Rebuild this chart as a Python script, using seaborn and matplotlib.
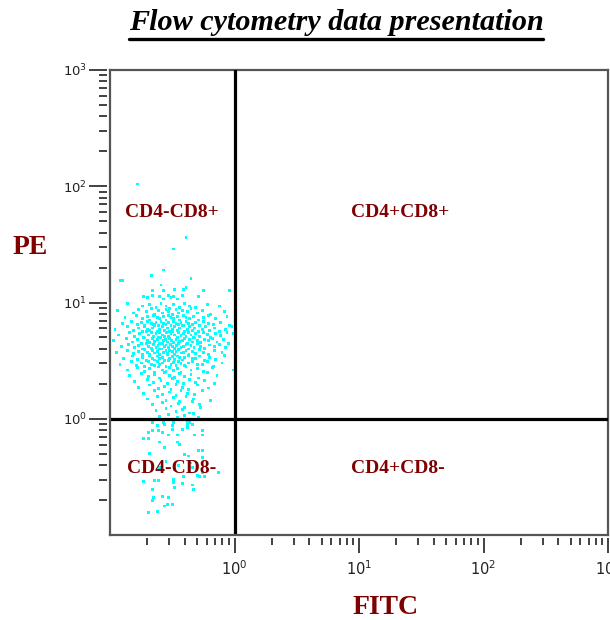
import numpy as np
import pandas as pd
import matplotlib
matplotlib.use("Agg")
import matplotlib.pyplot as plt
import seaborn as sns
from matplotlib.ticker import FixedLocator, FixedFormatter, NullFormatter
from matplotlib.lines import Line2D

# ---------------- data (events, in log10 decades) -------------
# sparse events above the main cluster
fitc_sparse_log10 = [-0.78, -0.39, -0.49, -0.57, -0.67, -0.92, -0.90, -0.35, -0.59, -0.66,
                     -0.57, -0.48, -0.41, -0.39, -0.25, -0.04,
                     -0.73, -0.70, -0.66, -0.60, -0.57, -0.53, -0.51, -0.49, -0.46, -0.42, -0.29]
pe_sparse_log10 = [2.02, 1.56, 1.46, 1.28, 1.23, 1.19, 1.19, 1.21, 1.15, 1.10,
                   1.10, 1.11, 1.11, 1.13, 1.10, 1.10,
                   1.05, 1.04, 1.06, 1.05, 1.03, 1.06, 1.04, 1.05, 1.03, 1.06, 1.05]

# main CD4-CD8+ cluster
fitc_core_log10 = [
    -0.86, -0.74, -0.68, -0.63, -0.59, -0.55, -0.52, -0.49, -0.44, -0.40, -0.36, -0.31, -0.22, -0.12,
    -0.94, -0.81, -0.77, -0.71, -0.67, -0.64, -0.61, -0.58, -0.55, -0.53, -0.50, -0.47, -0.45, -0.42,
    -0.38, -0.35, -0.30, -0.26, -0.19, -0.08,
    -0.88, -0.79, -0.74, -0.70, -0.68, -0.65, -0.62, -0.60, -0.57, -0.55, -0.53, -0.51, -0.49, -0.46,
    -0.44, -0.41, -0.39, -0.36, -0.33, -0.29, -0.25, -0.21, -0.15, -0.06,
    -0.90, -0.83, -0.78, -0.75, -0.72, -0.70, -0.67, -0.65, -0.63, -0.61, -0.59, -0.57, -0.55, -0.53,
    -0.51, -0.49, -0.47, -0.45, -0.43, -0.41, -0.39, -0.37, -0.34, -0.31, -0.28, -0.25, -0.21, -0.17,
    -0.11, -0.04,
    -0.96, -0.86, -0.81, -0.77, -0.74, -0.72, -0.70, -0.68, -0.66, -0.64, -0.62, -0.60, -0.58, -0.56,
    -0.54, -0.52, -0.50, -0.48, -0.46, -0.44, -0.42, -0.40, -0.38, -0.36, -0.34, -0.32, -0.29, -0.26,
    -0.23, -0.20, -0.16, -0.12, -0.07, -0.02,
    -0.93, -0.84, -0.80, -0.76, -0.73, -0.71, -0.69, -0.67, -0.65, -0.63, -0.61, -0.60, -0.58, -0.56,
    -0.545, -0.53, -0.51, -0.50, -0.48, -0.46, -0.45, -0.43, -0.41, -0.39, -0.37, -0.35, -0.33, -0.31,
    -0.28, -0.25, -0.22, -0.19, -0.15, -0.11, -0.06, -0.01,
    -0.97, -0.87, -0.82, -0.78, -0.75, -0.72, -0.70, -0.68, -0.66, -0.64, -0.62, -0.605, -0.59, -0.57,
    -0.555, -0.54, -0.52, -0.505, -0.49, -0.47, -0.455, -0.44, -0.42, -0.40, -0.38, -0.36, -0.34, -0.32,
    -0.30, -0.27, -0.24, -0.21, -0.18, -0.14, -0.09, -0.05,
    -0.91, -0.85, -0.80, -0.77, -0.74, -0.71, -0.69, -0.67, -0.65, -0.63, -0.615, -0.60, -0.58, -0.565,
    -0.55, -0.53, -0.515, -0.50, -0.48, -0.465, -0.45, -0.43, -0.41, -0.39, -0.37, -0.35, -0.325, -0.30,
    -0.27, -0.24, -0.20, -0.16, -0.12, -0.07,
    -0.95, -0.86, -0.81, -0.77, -0.74, -0.72, -0.70, -0.68, -0.66, -0.64, -0.62, -0.60, -0.585, -0.57,
    -0.55, -0.535, -0.52, -0.50, -0.485, -0.47, -0.45, -0.43, -0.41, -0.39, -0.365, -0.34, -0.31, -0.28,
    -0.25, -0.21, -0.16, -0.10,
    -0.89, -0.82, -0.78, -0.74, -0.71, -0.68, -0.66, -0.64, -0.62, -0.60, -0.58, -0.56, -0.54, -0.52,
    -0.50, -0.48, -0.46, -0.44, -0.42, -0.40, -0.37, -0.34, -0.31, -0.28, -0.24, -0.20, -0.15, -0.08,
    -0.92, -0.83, -0.79, -0.75, -0.72, -0.69, -0.67, -0.645, -0.62, -0.60, -0.575, -0.55, -0.53, -0.51,
    -0.49, -0.47, -0.45, -0.43, -0.40, -0.37, -0.34, -0.30, -0.26, -0.22, -0.17, -0.10,
    -0.86, -0.78, -0.72, -0.68, -0.64, -0.61, -0.58, -0.55, -0.52, -0.49, -0.46, -0.43, -0.39, -0.35,
    -0.30, -0.25, -0.18, -0.01,
    -0.84, -0.75, -0.69, -0.64, -0.60, -0.56, -0.52, -0.48, -0.44, -0.40, -0.35, -0.29, -0.22, -0.14,
    -0.80, -0.70, -0.65, -0.59, -0.54, -0.50, -0.46, -0.41, -0.36, -0.31, -0.24, -0.16,
    -0.77, -0.68, -0.61, -0.56, -0.51, -0.47, -0.42, -0.37, -0.30, -0.21,
    -0.73, -0.64, -0.58, -0.52, -0.47, -0.43, -0.38, -0.32, -0.26,
    -0.70, -0.62, -0.55, -0.49, -0.44, -0.39, -0.33, -0.19,
    -0.66, -0.58, -0.51, -0.45, -0.40, -0.34, -0.28,
    -0.63, -0.55, -0.47, -0.42, -0.36, -0.27,
    -0.60, -0.53, -0.46, -0.40, -0.33, -0.29,
]
pe_core_log10 = [
    0.99, 0.97, 0.98, 0.96, 0.99, 0.97, 0.95, 0.98, 0.96, 0.99, 0.97, 0.96, 0.98, 0.97,
    0.93, 0.91, 0.94, 0.92, 0.95, 0.90, 0.93, 0.91, 0.94, 0.92, 0.90, 0.94, 0.91, 0.93,
    0.92, 0.95, 0.91, 0.93, 0.90, 0.92,
    0.87, 0.89, 0.86, 0.88, 0.85, 0.89, 0.87, 0.86, 0.88, 0.85, 0.89, 0.87, 0.86, 0.88,
    0.85, 0.89, 0.87, 0.86, 0.88, 0.85, 0.87, 0.89, 0.86, 0.88,
    0.82, 0.84, 0.81, 0.83, 0.80, 0.84, 0.82, 0.81, 0.83, 0.80, 0.84, 0.82, 0.81, 0.83,
    0.80, 0.84, 0.82, 0.81, 0.83, 0.80, 0.84, 0.82, 0.81, 0.83, 0.80, 0.84, 0.82, 0.81,
    0.83, 0.80,
    0.77, 0.79, 0.76, 0.78, 0.75, 0.79, 0.77, 0.76, 0.78, 0.80, 0.75, 0.77, 0.79, 0.76,
    0.78, 0.75, 0.77, 0.79, 0.76, 0.78, 0.80, 0.75, 0.77, 0.79, 0.76, 0.78, 0.75, 0.77,
    0.79, 0.76, 0.78, 0.75, 0.77, 0.79,
    0.72, 0.74, 0.71, 0.73, 0.70, 0.75, 0.72, 0.74, 0.71, 0.73, 0.70, 0.745, 0.72, 0.705,
    0.74, 0.71, 0.73, 0.75, 0.72, 0.70, 0.74, 0.715, 0.73, 0.71, 0.745, 0.72, 0.70, 0.735,
    0.71, 0.74, 0.725, 0.70, 0.73, 0.715, 0.74, 0.735,
    0.67, 0.69, 0.66, 0.68, 0.65, 0.695, 0.67, 0.655, 0.69, 0.665, 0.68, 0.65, 0.70, 0.67,
    0.685, 0.66, 0.69, 0.675, 0.655, 0.68, 0.695, 0.665, 0.67, 0.69, 0.65, 0.68, 0.66, 0.695,
    0.67, 0.655, 0.685, 0.67, 0.69, 0.66, 0.68, 0.65,
    0.62, 0.64, 0.61, 0.63, 0.60, 0.645, 0.62, 0.605, 0.64, 0.615, 0.63, 0.60, 0.65, 0.62,
    0.635, 0.61, 0.64, 0.625, 0.605, 0.63, 0.645, 0.615, 0.62, 0.64, 0.60, 0.63, 0.61, 0.645,
    0.62, 0.605, 0.635, 0.62, 0.64, 0.61,
    0.57, 0.59, 0.56, 0.58, 0.55, 0.595, 0.57, 0.555, 0.59, 0.565, 0.58, 0.55, 0.60, 0.57,
    0.585, 0.56, 0.59, 0.575, 0.555, 0.58, 0.595, 0.565, 0.57, 0.59, 0.55, 0.58, 0.56, 0.595,
    0.57, 0.555, 0.585, 0.57,
    0.52, 0.54, 0.51, 0.53, 0.50, 0.545, 0.52, 0.505, 0.54, 0.515, 0.53, 0.50, 0.55, 0.52,
    0.535, 0.51, 0.54, 0.525, 0.505, 0.53, 0.545, 0.515, 0.52, 0.54, 0.50, 0.53, 0.51, 0.545,
    0.47, 0.49, 0.46, 0.48, 0.45, 0.495, 0.47, 0.455, 0.49, 0.465, 0.48, 0.45, 0.50, 0.47,
    0.485, 0.46, 0.49, 0.475, 0.455, 0.48, 0.495, 0.465, 0.47, 0.49, 0.45, 0.48,
    0.42, 0.44, 0.41, 0.43, 0.40, 0.445, 0.42, 0.405, 0.44, 0.415, 0.43, 0.40, 0.45, 0.42,
    0.435, 0.41, 0.44, 0.42,
    0.37, 0.39, 0.36, 0.38, 0.35, 0.395, 0.37, 0.355, 0.39, 0.365, 0.38, 0.35, 0.40, 0.37,
    0.32, 0.34, 0.31, 0.33, 0.30, 0.345, 0.32, 0.305, 0.34, 0.315, 0.33, 0.30,
    0.27, 0.29, 0.26, 0.28, 0.25, 0.295, 0.27, 0.255, 0.29, 0.265,
    0.22, 0.24, 0.21, 0.23, 0.20, 0.245, 0.22, 0.205, 0.24,
    0.17, 0.19, 0.16, 0.18, 0.15, 0.195, 0.17, 0.155,
    0.12, 0.14, 0.11, 0.13, 0.10, 0.145, 0.12,
    0.07, 0.09, 0.06, 0.08, 0.05, 0.095,
    0.02, 0.04, 0.01, 0.03, 0.045, 0.015,
]

# tail into the CD4-CD8- quadrant
fitc_tail_log10 = [-0.66, -0.57, -0.49, -0.38, -0.36, -0.62, -0.56, -0.50, -0.38, -0.34,
                   -0.66, -0.69, -0.61, -0.58, -0.50, -0.42, -0.38, -0.26, -0.73, -0.69,
                   -0.53, -0.46, -0.32, -0.26, -0.60, -0.46, -0.56, -0.44, -0.68, -0.29,
                   -0.26, -0.40, -0.37, -0.26, -0.48, -0.34, -0.26, -0.24, -0.13, -0.30,
                   -0.28, -0.41, -0.49, -0.73, -0.64, -0.61, -0.49, -0.42, -0.34, -0.66,
                   -0.48, -0.33, -0.58, -0.53, -0.65, -0.50, -0.54, -0.66, -0.56, -0.62,
                   -0.69, -0.55, -0.45, -0.60, -0.35]
pe_tail_log10 = [-0.03, -0.03, -0.03, -0.03, -0.03, -0.06, -0.05, -0.06, -0.06, -0.05,
                 -0.10, -0.12, -0.10, -0.12, -0.09, -0.09, -0.08, -0.10, -0.17, -0.17,
                 -0.14, -0.14, -0.14, -0.14, -0.20, -0.20, -0.25, -0.22, -0.30, -0.27,
                 -0.27, -0.31, -0.32, -0.33, -0.44, -0.42, -0.46, -0.50, -0.46, -0.49,
                 -0.50, -0.50, -0.52, -0.54, -0.53, -0.53, -0.55, -0.56, -0.57, -0.61,
                 -0.59, -0.61, -0.67, -0.68, -0.68, -0.74, -0.74, -0.70, -0.75, -0.80,
                 -0.81, -0.37, -0.40, -0.42, -0.38]

gate_fitc = 1.0
gate_pe = 1.0
axis_limits = (0.1, 1000)
major_ticks = [1, 10, 100, 1000]
tick_labels = [r"$\mathregular{10^{0}}$", r"$\mathregular{10^{1}}$",
               r"$\mathregular{10^{2}}$", r"$\mathregular{10^{3}}$"]
minor_ticks = [m * 10.0 ** e for e in range(-1, 3) for m in range(2, 10)]
quadrant_labels = ["CD4-CD8+", "CD4+CD8+", "CD4-CD8-", "CD4+CD8-"]
title_text = "Flow cytometry data presentation"
x_label, y_label = "FITC", "PE"

fitc = 10.0 ** np.array(fitc_sparse_log10 + fitc_core_log10 + fitc_tail_log10)
pe = 10.0 ** np.array(pe_sparse_log10 + pe_core_log10 + pe_tail_log10)
df = pd.DataFrame({"FITC": fitc, "PE": pe})

# ---------------- figure -------------
sns.set_style("white")
plt.rcParams["font.family"] = ["DejaVu Sans"]
W, H = 610, 620
fig = plt.figure(figsize=(W / 100, H / 100), dpi=100)
ax = fig.add_axes([110 / W, 85 / H, 498 / W, 465 / H])
ax.set_xscale("log")
ax.set_yscale("log")

sns.scatterplot(data=df, x="FITC", y="PE", ax=ax, marker="s", s=4.2,
                color="#00FFFF", linewidth=0, edgecolor="none", legend=False, zorder=2)

ax.set_xlim(*axis_limits)
ax.set_ylim(*axis_limits)

# quadrant gates
ax.axvline(gate_fitc, color="black", lw=2.3, zorder=3)
ax.axhline(gate_pe, color="black", lw=2.3, zorder=3)

# frame and ticks
frame_color = "#555555"
for side in ["top", "right"]:
    ax.spines[side].set_color(frame_color)
    ax.spines[side].set_linewidth(1.6)
for side in ["left", "bottom"]:
    ax.spines[side].set_position(("outward", 2.5))
    ax.spines[side].set_visible(False)
ax.plot([0, 0], [0, 1], transform=ax.transAxes, color=frame_color, lw=1.6,
        clip_on=False, zorder=4, solid_capstyle="projecting")
ax.plot([0, 1], [0, 0], transform=ax.transAxes, color=frame_color, lw=1.6,
        clip_on=False, zorder=4, solid_capstyle="projecting")

for axis in (ax.xaxis, ax.yaxis):
    axis.set_major_locator(FixedLocator(major_ticks))
    axis.set_major_formatter(FixedFormatter(tick_labels))
    axis.set_minor_locator(FixedLocator(minor_ticks))
    axis.set_minor_formatter(NullFormatter())

ax.tick_params(which="both", bottom=True, left=True, top=False, right=False)
ax.tick_params(axis="x", which="major", direction="out", length=11, width=1.3,
               color="#333333", labelsize=10.5, pad=4, labelcolor="#222222")
ax.tick_params(axis="x", which="minor", direction="out", length=5, width=1.3, color="#333333")
ax.tick_params(axis="y", which="major", direction="out", length=13, width=1.3,
               color="#333333", labelsize=9.5, pad=1, labelcolor="#222222")
ax.tick_params(axis="y", which="minor", direction="out", length=5.5, width=1.3, color="#333333")
ax.set_xlabel("")
ax.set_ylabel("")

# quadrant labels
label_color = "#800000"
label_pos = [(0.1245, 0.6946), (0.582, 0.6946), (0.1245, 0.144), (0.578, 0.144)]
for lab, (xf, yf) in zip(quadrant_labels, label_pos):
    ax.text(xf, yf, lab, transform=ax.transAxes, ha="center", va="center",
            fontsize=14, fontweight="bold", family="Liberation Serif",
            color=label_color, zorder=5)

# axis titles
fig.text(30 / W, 1 - 247 / H, y_label, ha="center", va="center", fontsize=20,
         fontweight="bold", family="Liberation Serif", color=label_color)
fig.text(386 / W, 1 - 607 / H, x_label, ha="center", va="center", fontsize=20,
         fontweight="bold", family="Liberation Serif", color=label_color)

# underlined title
t = fig.text(336 / W, 1 - 23 / H, title_text, ha="center", va="center", fontsize=21.7,
             fontweight="bold", style="italic", family="Liberation Serif", color="black")
fig.canvas.draw()
bb = t.get_window_extent()
uy = 1 - 39 / H
fig.add_artist(Line2D([bb.x0 / W, bb.x1 / W], [uy, uy], transform=fig.transFigure,
                      color="black", lw=2.4))

fig.savefig("out.png", dpi=100)
